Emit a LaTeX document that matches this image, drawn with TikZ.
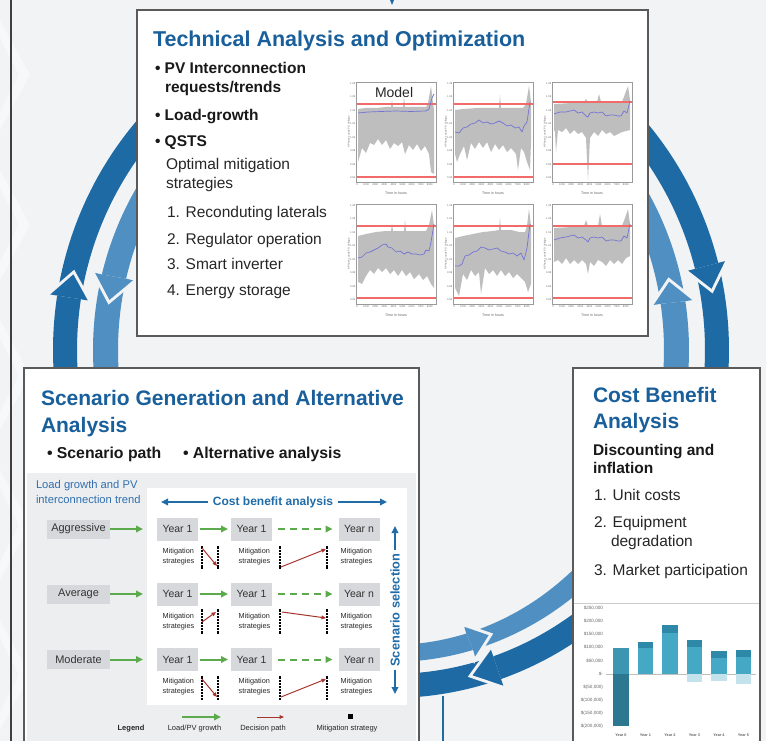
\documentclass[tikz,border=0pt]{standalone}
\usepackage{fontspec}
\setmainfont{Liberation Sans}
\usetikzlibrary{arrows.meta}
\definecolor{bgc}{HTML}{F2F3F5}
\definecolor{ringdark}{HTML}{1D6AA5}
\definecolor{ringlight}{HTML}{4F8FC2}
\definecolor{ttl}{HTML}{195F9B}
\definecolor{boxline}{HTML}{5A5A5A}
\definecolor{panelgray}{HTML}{EDEEF0}
\definecolor{scenbox}{HTML}{D6D8DB}
\definecolor{grn}{HTML}{5BAA4C}
\definecolor{decred}{HTML}{A8332E}
\definecolor{cbablue}{HTML}{1F6CA8}
\definecolor{ltblue}{HTML}{2F6FB0}
\definecolor{plotgray}{HTML}{BEBEBE}
\definecolor{plotblue}{HTML}{7373D6}
\definecolor{plotred}{HTML}{F26B6B}
\definecolor{axisgray}{HTML}{9A9A9A}
\definecolor{barcap}{HTML}{2E89A8}
\definecolor{barbody}{HTML}{45A9C6}
\definecolor{bartopz}{HTML}{3C96B2}
\definecolor{bardark}{HTML}{2C7890}
\definecolor{barneg}{HTML}{C3E2EB}
\tikzset{
  every node/.style={inner sep=0pt,outer sep=0pt},
  hd/.style={anchor=base west,text=ttl,font=\fontsize{21.5}{26}\selectfont\bfseries},
  bb/.style={anchor=base west,text=black!90,font=\fontsize{15.5}{19}\selectfont\bfseries},
  rg/.style={anchor=base west,text=black!85,font=\fontsize{15.5}{19}\selectfont},
  tick/.style={text=black!60,font=\fontsize{2.6}{3}\selectfont},
  mainbox/.style={fill=white,draw=boxline,line width=1.2pt},
  scen/.style={fill=scenbox,minimum width=63pt,minimum height=19pt,font=\fontsize{11}{13}\selectfont,text=black!80},
  yr/.style={fill=scenbox,minimum width=41pt,minimum height=23pt,font=\fontsize{10.5}{12}\selectfont,text=black!80},
  mit/.style={align=left,font=\fontsize{7.3}{10}\selectfont,text=black!85},
  garrow/.style={draw=grn,line width=2pt,-{Triangle[length=7pt,width=6.5pt]}},
  gdash/.style={garrow,dash pattern=on 7pt off 5pt},
  rarrow/.style={draw=decred,line width=1pt,-{Triangle[length=4.5pt,width=3.8pt]}},
  barrow/.style={draw=cbablue,line width=1.8pt,-{Triangle[length=7pt,width=6.5pt]}},
  mcol/.style={draw=black,line width=1.5pt,dash pattern=on 1.6pt off 1.4pt},
  leg/.style={anchor=base,font=\fontsize{7.5}{9}\selectfont,text=black!85},
  ylab/.style={anchor=east,font=\fontsize{4.6}{5}\selectfont,text=black!60},
  xlab/.style={anchor=base,font=\fontsize{3.8}{4}\selectfont\bfseries,text=black!60}
}
% #1 colour, #2 start, #3 base, #4 tip, #5 end, #6 rx in, #7 ry in, #8 rx out, #9 ry out
\newcommand\ringarrow[9]{%
  \fill[#1] plot[domain=#3:#5,samples=50] ({391+#8*cos(\x)},{350-#9*sin(\x)})
     -- plot[domain=#5:#3,samples=50] ({391+#6*cos(\x)},{350-#7*sin(\x)}) -- cycle;
  \path[fill=#1,draw=bgc,line width=6pt,line join=miter]
     ({391+#6*cos(#3)},{350-#7*sin(#3)}) -- ({391+(#6-7)*cos(#3)},{350-(#7-7)*sin(#3)})
     -- ({391+(#6+#8)/2*cos(#4)},{350-(#7+#9)/2*sin(#4)})
     -- ({391+(#8+7)*cos(#3)},{350-(#9+7)*sin(#3)}) -- ({391+#8*cos(#3)},{350-#9*sin(#3)}) -- cycle;
  \fill[#1]
     ({391+#6*cos(#3)},{350-#7*sin(#3)}) -- ({391+(#6-7)*cos(#3)},{350-(#7-7)*sin(#3)})
     -- ({391+(#6+#8)/2*cos(#4)},{350-(#7+#9)/2*sin(#4)})
     -- ({391+(#8+7)*cos(#3)},{350-(#9+7)*sin(#3)}) -- ({391+#8*cos(#3)},{350-#9*sin(#3)}) -- cycle;
  \fill[#1] plot[domain=#2:#3,samples=50] ({391+#8*cos(\x)},{350-#9*sin(\x)})
     -- plot[domain=#3:#2,samples=50] ({391+#6*cos(\x)},{350-#7*sin(\x)}) -- cycle;
}
% #1 x0, #2 y0, #3 red1, #4 red2, #5 gray path, #6 blue path, #7 name prefix
\newcommand\plotpanel[7]{%
  \begin{scope}[shift={(#1,#2)}]
    \fill[plotgray] #5 -- cycle;
    \draw[plotred,line width=1.8pt] (0,#3) -- (80,#3) (0,#4) -- (80,#4);
    \draw[plotblue,line width=0.7pt,line join=round] #6;
    \draw[axisgray,line width=0.4pt] (0,0) rectangle (80,100);
    \foreach \v [count=\i from 0] in {1.08,1.06,1.04,1.02,1.00,0.98,0.96,0.94}
      \node[tick,anchor=east] (#7y\i) at (-0.8,{\i*13.5+1.5}) {\v};
    \foreach \v [count=\i from 0] in {0,1000,2000,3000,4000,5000,6000,7000,8000}
      \node[tick,anchor=north] (#7x\i) at ({1+\i*9.1},101.5) {\v};
    \node[tick,font=\fontsize{3.6}{4}\selectfont] (#7t) at (40,111) {Time in hours};
    \node[tick,rotate=90] (#7l) at (-7,50) {A Phase Loads PU Voltage};
  \end{scope}}
\begin{document}
\begin{tikzpicture}[x=1pt,y=-1pt]
\useasboundingbox (0,0) rectangle (766,741);
\clip (0,0) rectangle (766,741);
\fill[bgc] (0,0) rectangle (766,741);
% faint background chevrons
\foreach \k in {0,...,4}
  \fill[white,opacity=0.45] (0,{20+150*\k}) -- (30,{75+150*\k}) -- (0,{130+150*\k}) -- (0,{112+150*\k}) -- (19,{75+150*\k}) -- (0,{38+150*\k}) -- cycle;
\draw[black!75,line width=1.5pt] (11,0) -- (11,741);
\fill[ringdark] (390,0) -- (394,0) -- (392,5) -- cycle;

% ---- ring arrows ----
\ringarrow{ringdark}{186}{171}{167}{130}{314}{324}{338}{348}
\ringarrow{ringlight}{140}{166}{170.5}{186}{273}{295}{298}{312}
\ringarrow{ringdark}{50}{14.5}{10.5}{-6}{314}{324}{338}{348}
\ringarrow{ringlight}{-6}{9}{13}{40}{273}{295}{298}{312}
\ringarrow{ringdark}{-50}{-71}{-75.5}{-95}{314}{324}{338}{348}
\ringarrow{ringlight}{-95}{-74}{-70}{-45}{273}{295}{298}{312}
\coordinate (vlt) at (443,696);
\coordinate (vlb) at (443,745);
\draw[ringdark,line width=2.6pt] (vlt) -- (vlb);

% ---- top box ----
\draw[mainbox] (137,10) rectangle (648,336);
\node[hd] (tt) at (153,47) {Technical Analysis and Optimization};
\node[bb] (tb1) at (155,74) {• PV Interconnection};
\node[bb] (tb1b) at (165,93) {requests/trends};
\node[bb] (tb2) at (155,121) {• Load-growth};
\node[bb] (tb3) at (155,147) {• QSTS};
\node[rg] (to1) at (166,170) {Optimal mitigation};
\node[rg] (to2) at (166,189) {strategies};
\node[rg] (tn1) at (167,218) {1. Reconduting laterals};
\node[rg] (tn2) at (167,244) {2. Regulator operation};
\node[rg] (tn3) at (167,269) {3. Smart inverter};
\node[rg] (tn4) at (167,295) {4. Energy storage};

\plotpanel{356}{82}{22}{95}
 {(2,27) -- (10,26) -- (20,26) -- (30,25) -- (35,25) -- (36,18) -- (37,25) -- (47,25) -- (48,15) -- (49,25) -- (60,25) -- (70,25) -- (72,21) -- (75,4) -- (77,21) -- (78,28) -- (78,92) -- (75,90) -- (73,72) -- (69,64) -- (65,69) -- (61,62) -- (57,68) -- (53,63) -- (49,72) -- (46,60) -- (42,64) -- (38,61) -- (34,67) -- (30,58) -- (26,63) -- (22,57) -- (18,63) -- (14,61) -- (10,71) -- (6,66) -- (2,80)}
 {(2,31) -- (12,30) -- (25,29.5) -- (40,29) -- (55,29.5) -- (70,29) -- (73,27) -- (76,16) -- (78,12)}{pa}
\plotpanel{453}{82}{22}{95}
 {(2,28) -- (10,27) -- (25,26) -- (40,26) -- (46,26) -- (47,13) -- (48,26) -- (60,26) -- (70,26) -- (73,22) -- (76,4) -- (78,20) -- (78,60) -- (77,88) -- (74,80) -- (71,70) -- (68,66) -- (65,88) -- (63,72) -- (58,66) -- (54,70) -- (50,63) -- (46,68) -- (42,62) -- (38,70) -- (34,60) -- (30,66) -- (26,60) -- (22,67) -- (18,61) -- (14,78) -- (11,64) -- (7,72) -- (4,80) -- (2,72)}
 {(2,50) -- (6,51) -- (10,46) -- (14,45) -- (18,42) -- (22,41) -- (26,38) -- (30,41) -- (34,40) -- (38,42) -- (42,41) -- (46,39) -- (50,41) -- (54,44) -- (58,43) -- (62,46) -- (66,45) -- (69,50) -- (71,44) -- (74,40) -- (77,20)}{pb}
\plotpanel{552}{82}{20}{82}
 {(2,22) -- (20,21) -- (32,20) -- (34,17) -- (36,20) -- (45,20) -- (47,12) -- (49,20) -- (70,20) -- (73,12) -- (76,4) -- (78,18) -- (78,48) -- (74,49) -- (70,50) -- (66,52) -- (62,54) -- (58,50) -- (54,52) -- (50,48) -- (46,54) -- (42,50) -- (38,56) -- (36,98) -- (34,56) -- (30,50) -- (26,52) -- (22,48) -- (18,52) -- (14,46) -- (10,50) -- (6,48) -- (4,70) -- (3,50) -- (2,48)}
 {(2,32) -- (8,30) -- (14,30) -- (18,29) -- (22,28) -- (26,31) -- (30,30) -- (34,34) -- (36,35) -- (38,31) -- (42,30) -- (46,31) -- (50,30) -- (54,34) -- (58,33) -- (62,33) -- (66,34) -- (69,34) -- (72,29) -- (75,31) -- (78,19)}{pc}
\plotpanel{356}{204}{22}{94}
 {(2,32) -- (10,30) -- (20,28) -- (30,27) -- (35,27) -- (36,20) -- (37,27) -- (48,27) -- (49,16) -- (50,27) -- (62,27) -- (70,27) -- (73,21) -- (76,6) -- (78,22) -- (78,84) -- (75,80) -- (71,72) -- (67,76) -- (63,70) -- (58,75) -- (54,68) -- (50,72) -- (46,66) -- (42,72) -- (38,66) -- (34,70) -- (30,64) -- (26,68) -- (22,64) -- (18,70) -- (14,66) -- (10,72) -- (6,80) -- (2,78)}
 {(2,54) -- (6,53) -- (10,49) -- (14,48) -- (18,46) -- (22,44) -- (26,41) -- (30,40) -- (32,43) -- (36,44) -- (40,48) -- (44,47) -- (48,50) -- (52,48) -- (56,50) -- (60,50) -- (64,51) -- (68,50) -- (70,46) -- (73,47) -- (75,38) -- (78,20)}{pd}
\plotpanel{453}{204}{22}{94}
 {(2,34) -- (10,32) -- (20,30) -- (30,28) -- (40,27) -- (46,26) -- (47,14) -- (48,26) -- (58,26) -- (66,28) -- (72,28) -- (74,22) -- (76,5) -- (78,22) -- (78,80) -- (75,88) -- (72,78) -- (68,74) -- (64,70) -- (60,74) -- (56,68) -- (52,72) -- (48,66) -- (44,72) -- (40,66) -- (36,70) -- (32,64) -- (28,90) -- (26,68) -- (22,72) -- (18,66) -- (14,76) -- (10,70) -- (6,92) -- (2,84)}
 {(2,62) -- (6,62) -- (9,60) -- (12,52) -- (16,51) -- (20,48) -- (24,47) -- (28,43) -- (32,44) -- (36,46) -- (40,45) -- (44,44) -- (48,47) -- (52,48) -- (56,50) -- (60,49) -- (64,52) -- (68,49) -- (71,56) -- (74,44) -- (77,20)}{pe}
\plotpanel{552}{204}{22}{94}
 {(2,24) -- (20,23) -- (32,22) -- (34,16) -- (36,22) -- (46,22) -- (48,10) -- (50,22) -- (70,22) -- (73,14) -- (76,5) -- (78,20) -- (78,52) -- (74,54) -- (70,60) -- (66,56) -- (62,60) -- (58,56) -- (54,62) -- (50,58) -- (46,56) -- (42,62) -- (38,58) -- (36,70) -- (34,60) -- (30,56) -- (26,60) -- (22,56) -- (18,60) -- (14,54) -- (10,60) -- (6,56) -- (2,58)}
 {(2,36) -- (8,34) -- (14,33) -- (18,32) -- (22,31) -- (26,34) -- (30,33) -- (34,36) -- (36,38) -- (38,34) -- (42,33) -- (46,34) -- (50,33) -- (54,37) -- (58,36) -- (62,36) -- (66,37) -- (69,37) -- (72,32) -- (75,34) -- (78,20)}{pf}
\node[anchor=base west,font=\fontsize{14}{16}\selectfont,text=black!85] (model) at (375,98) {Model};

% ---- left box ----
\draw[mainbox] (24,368) rectangle (419,760);
\node[hd,font=\fontsize{21}{25}\selectfont\bfseries] (st1) at (41,405) {Scenario Generation and Alternative};
\node[hd,font=\fontsize{21}{25}\selectfont\bfseries] (st2) at (41,432) {Analysis};
\node[bb,font=\fontsize{15.8}{19}\selectfont\bfseries] (sb1) at (47,458) {• Scenario path};
\node[bb,font=\fontsize{15.8}{19}\selectfont\bfseries] (sb2) at (183,458) {• Alternative analysis};
\fill[panelgray] (27,473) rectangle (416,760);
\fill[white] (147,488) rectangle (407,705);
\node[anchor=base west,font=\fontsize{11.2}{13}\selectfont,text=ltblue] (lg1) at (36,488) {Load growth and PV};
\node[anchor=base west,font=\fontsize{11.2}{13}\selectfont,text=ltblue] (lg2) at (36,503) {interconnection trend};
\node[font=\fontsize{12}{14}\selectfont\bfseries,text=cbablue] (cba) at (273,502) {Cost benefit analysis};
\coordinate (cbl) at (161,502);
\coordinate (cbr) at (387,502);
\draw[barrow,shorten <=5pt] (cba.west) -- (cbl);
\draw[barrow,shorten <=5pt] (cba.east) -- (cbr);
\node[font=\fontsize{12.8}{14}\selectfont\bfseries,text=cbablue,rotate=90] (ss) at (395,610) {Scenario selection};
\coordinate (sst) at (395,526);
\coordinate (ssb) at (395,694);
\draw[barrow,shorten <=3pt] (ss.east) -- (sst);
\draw[barrow,shorten <=3pt] (ss.west) -- (ssb);

% rows
\foreach \r/\lab/\yc/\ym in {a/Aggressive/529/557, b/Average/594/622, c/Moderate/659.5/687}{
  \node[scen] (\r s) at (78.5,\yc) {\lab};
  \coordinate (\r e) at (143,\yc);
  \draw[garrow] (\r s.east) -- (\r e);
  \node[yr] (\r 1) at (177.5,\yc) {Year 1};
  \node[yr] (\r 2) at (251.5,\yc) {Year 1};
  \node[yr] (\r n) at (359,\yc) {Year n};
  \draw[garrow,shorten <=2pt,shorten >=3pt] (\r 1.east) -- (\r 2.west);
  \draw[gdash,shorten <=6pt,shorten >=6pt] (\r 2.east) -- (\r n.west);
  \node[mit] (\r m1) at (178.5,\ym) {Mitigation\\strategies};
  \node[mit] (\r m2) at (254.5,\ym) {Mitigation\\strategies};
  \node[mit] (\r m3) at (356.5,\ym) {Mitigation\\strategies};
}
% mitigation columns
\foreach \yt/\yb in {547/568, 610/633, 677/699}{
  \foreach \xc in {202,218,280,327}{
    \draw[mcol] (\xc,\yt) -- (\xc,\yb);
    \fill (\xc-1.4,\yt-1.4) rectangle (\xc+1.4,\yt+1.4);
    \fill (\xc-1.4,\yb-1.4) rectangle (\xc+1.4,\yb+1.4);
  }
}
% decision paths
\coordinate (ra1) at (202,548); \coordinate (ra2) at (217,566);
\coordinate (ra3) at (281,567); \coordinate (ra4) at (326,549);
\coordinate (rb1) at (202,622); \coordinate (rb2) at (216,612);
\coordinate (rb3) at (282,612); \coordinate (rb4) at (326,618);
\coordinate (rc1) at (202,679); \coordinate (rc2) at (217,697);
\coordinate (rc3) at (281,697); \coordinate (rc4) at (326,679);
\draw[rarrow] (ra1) -- (ra2); \draw[rarrow] (ra3) -- (ra4);
\draw[rarrow] (rb1) -- (rb2); \draw[rarrow] (rb3) -- (rb4);
\draw[rarrow] (rc1) -- (rc2); \draw[rarrow] (rc3) -- (rc4);
% legend
\node[leg,font=\fontsize{7.5}{9}\selectfont\bfseries] (leg0) at (131,730) {Legend};
\node[leg] (leg1) at (194.5,730) {Load/PV growth};
\node[leg] (leg2) at (263,730) {Decision path};
\node[leg] (leg3) at (347,730) {Mitigation strategy};
\coordinate (lg1a) at (182,717); \coordinate (lg1b) at (221,717);
\coordinate (lg2a) at (257,717); \coordinate (lg2b) at (284,717);
\draw[garrow] (lg1a) -- (lg1b);
\draw[rarrow] (lg2a) -- (lg2b);
\fill (347.5,714) rectangle (352.5,719);

% ---- right box ----
\draw[mainbox] (573,368) rectangle (760,760);
\node[hd,font=\fontsize{21}{25}\selectfont\bfseries] (ct1) at (593,402) {Cost Benefit};
\node[hd,font=\fontsize{21}{25}\selectfont\bfseries] (ct2) at (593,428) {Analysis};
\node[bb] (cd1) at (593,455) {Discounting and};
\node[bb] (cd2) at (593,473) {inflation};
\node[rg] (cn1) at (594,500) {1. Unit costs};
\node[rg] (cn2) at (594,527) {2. Equipment};
\node[rg] (cn2b) at (611,546) {degradation};
\node[rg] (cn3) at (594,575) {3. Market participation};
\draw[black!20,line width=1pt] (574,603) -- (759,603);
% bar chart
\foreach \lab/\yy [count=\i] in {{\$250,000}/608,{\$200,000}/621,{\$150,000}/634,{\$100,000}/647,{\$50,000}/661,{\$-}/674,{\$(50,000)}/687,{\$(100,000)}/700,{\$(150,000)}/713,{\$(200,000)}/726}
  \node[ylab] (yl\i) at (603,\yy) {\lab};
\draw[black!25,line width=0.9pt] (606,674) -- (756,674);
\fill[bartopz] (613,648) rectangle (629,674);
\fill[bardark] (613,674) rectangle (629,726);
\fill[barcap] (638,642) rectangle (653,648);
\fill[barbody] (638,648) rectangle (653,674);
\fill[barcap] (662,625) rectangle (678,633);
\fill[barbody] (662,633) rectangle (678,674);
\fill[barcap] (687,640) rectangle (702,647);
\fill[barbody] (687,647) rectangle (702,674);
\fill[barneg] (687,674) rectangle (702,682);
\fill[barcap] (711,651) rectangle (727,658);
\fill[barbody] (711,658) rectangle (727,674);
\fill[barneg] (711,674) rectangle (727,681);
\fill[barcap] (736,650) rectangle (751,657);
\fill[barbody] (736,657) rectangle (751,674);
\fill[barneg] (736,674) rectangle (751,684);
\foreach \lab/\xx [count=\i] in {Year 0/621,Year 1/645.5,Year 2/670,Year 3/694.5,Year 4/719,Year 5/743.5}
  \node[xlab] (xl\i) at (\xx,736) {\lab};
\end{tikzpicture}
\end{document}
